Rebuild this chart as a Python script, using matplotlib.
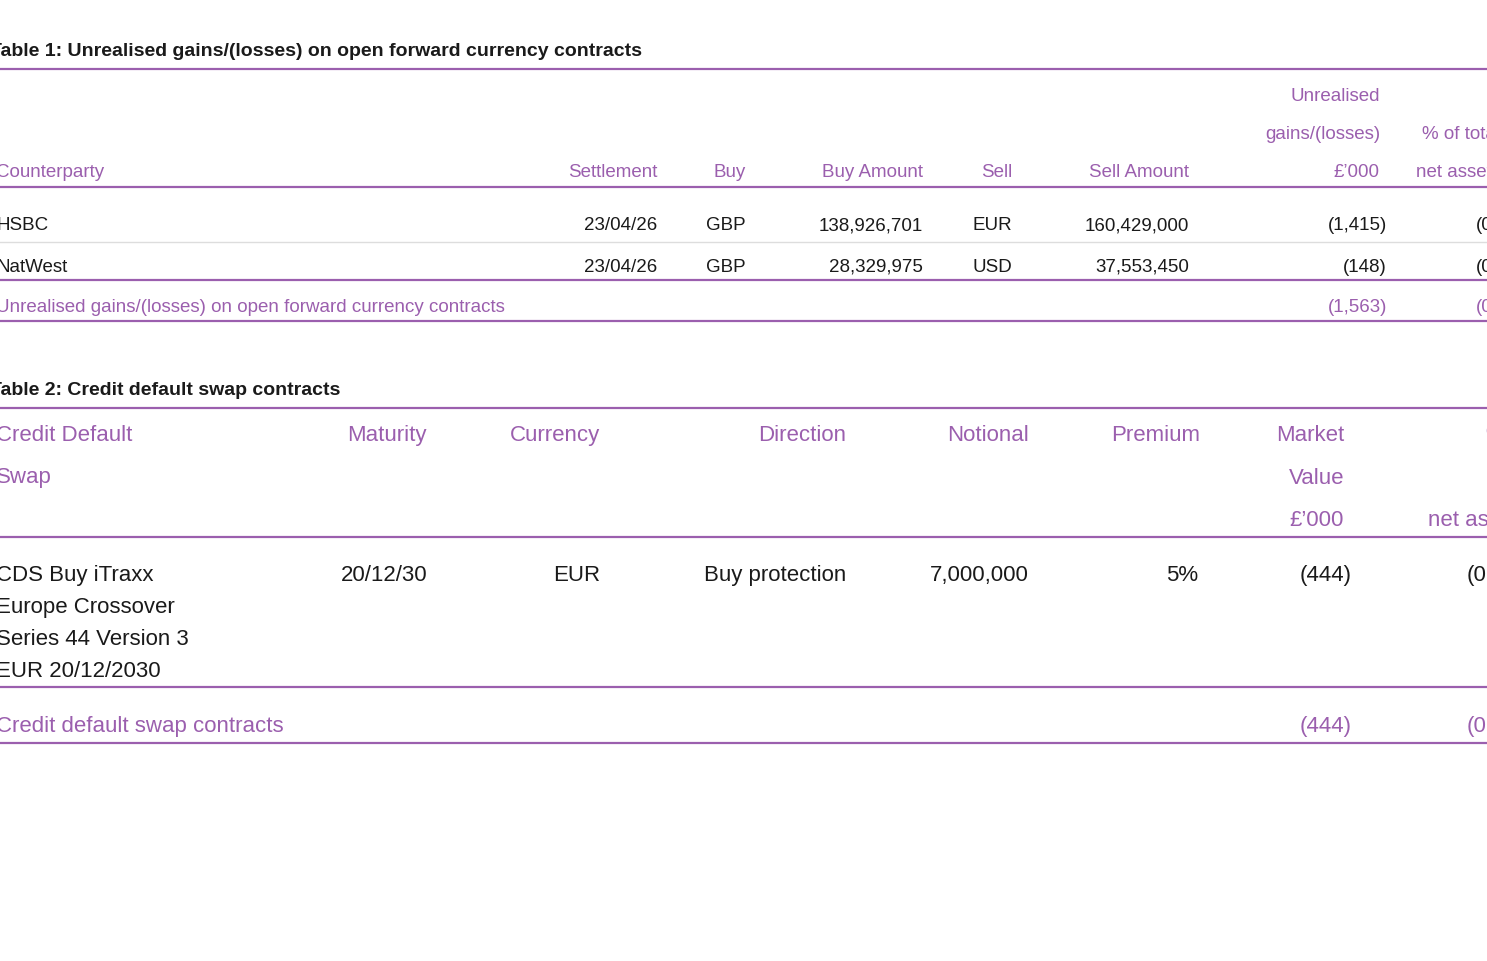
import matplotlib.pyplot as plt

plt.rcParams['font.family'] = ['Liberation Sans', 'DejaVu Sans']
PURPLE = '#9b5fae'
BLACK = '#1a1a1a'

# Table 1 data
t1_title = 'Table 1: Unrealised gains/(losses) on open forward currency contracts'
t1_rows = [
    ['HSBC', '23/04/26', 'GBP', '138,926,701', 'EUR', '160,429,000', '(1,415)', '(0.4)'],
    ['NatWest', '23/04/26', 'GBP', '28,329,975', 'USD', '37,553,450', '(148)', '(0.0)'],
]
t1_total = ['Unrealised gains/(losses) on open forward currency contracts', '(1,563)', '(0.4)']

# Table 2 data
t2_title = 'Table 2: Credit default swap contracts'
t2_row = ['CDS Buy iTraxx\nEurope Crossover\nSeries 44 Version 3\nEUR 20/12/2030',
          '20/12/30', 'EUR', 'Buy protection', '7,000,000', '5%', '(444)', '(0.1)']
t2_total = ['Credit default swap contracts', '(444)', '(0.1)']

W, H = 1487, 961
fig = plt.figure(figsize=(W / 100, H / 100), dpi=100)


def txt(x, y, s, ha='left', color=BLACK, size=13.5, weight='normal'):
    fig.text(x / W, 1 - y / H, s, ha=ha, va='baseline', color=color, fontsize=size, fontweight=weight)


def line(y, color=PURPLE, lw=1.6):
    fig.add_artist(plt.Line2D([0, 1], [1 - y / H, 1 - y / H], color=color, lw=lw, transform=fig.transFigure))


# ---- Table 1
txt(-10, 56, t1_title, weight='bold', size=14)
line(69)
txt(1380, 101, 'Unrealised', 'right', PURPLE)
txt(1380, 139, 'gains/(losses)', 'right', PURPLE)
txt(1422, 139, '% of total', color=PURPLE)
hdr = [('Counterparty', -4, 'left'), ('Settlement', 657, 'right'), ('Buy', 746, 'right'),
       ('Buy Amount', 923, 'right'), ('Sell', 1012, 'right'), ('Sell Amount', 1189, 'right'),
       ('£’000', 1380, 'right'), ('net assets', 1416, 'left')]
for s, x, ha in hdr:
    txt(x, 177, s, ha, PURPLE)
line(187)
xs1 = [(-4, 'left'), (657, 'right'), (746, 'right'), (923, 'right'), (1012, 'right'),
       (1189, 'right'), (1387, 'right'), (1476, 'left')]
for row, yb in zip(t1_rows, [230, 272]):
    for s, (x, ha) in zip(row, xs1):
        txt(x, yb, s, ha)
line(242, '#dddddd', 1.0)
line(280)
txt(-4, 312, t1_total[0], color=PURPLE)
txt(1387, 312, t1_total[1], 'right', PURPLE)
txt(1476, 312, t1_total[2], color=PURPLE)
line(321)

# ---- Table 2
S2 = 16
txt(-10, 395, t2_title, weight='bold', size=14)
line(408)
h2 = [('Credit Default\nSwap', -4, 'left'), ('Maturity', 427, 'right'), ('Currency', 600, 'right'),
      ('Direction', 846, 'right'), ('Notional', 1029, 'right'), ('Premium', 1200, 'right'),
      ('Market\nValue\n£’000', 1344, 'right'), ('% of\ntotal\nnet assets', 1530, 'right')]
for s, x, ha in h2:
    for i, part in enumerate(s.split('\n')):
        txt(x, 441 + 42.5 * i, part, ha, PURPLE, S2)
line(537)
xs2 = [(-4, 'left'), (427, 'right'), (600, 'right'), (846, 'right'), (1029, 'right'),
       (1198, 'right'), (1352, 'right'), (1467, 'left')]
for s, (x, ha) in zip(t2_row, xs2):
    for i, part in enumerate(s.split('\n')):
        txt(x, 581 + 32 * i, part, ha, BLACK, S2)
line(687)
txt(-4, 732, t2_total[0], color=PURPLE, size=S2)
txt(1352, 732, t2_total[1], 'right', PURPLE, S2)
txt(1467, 732, t2_total[2], color=PURPLE, size=S2)
line(743)

fig.savefig('out.png', dpi=100)
